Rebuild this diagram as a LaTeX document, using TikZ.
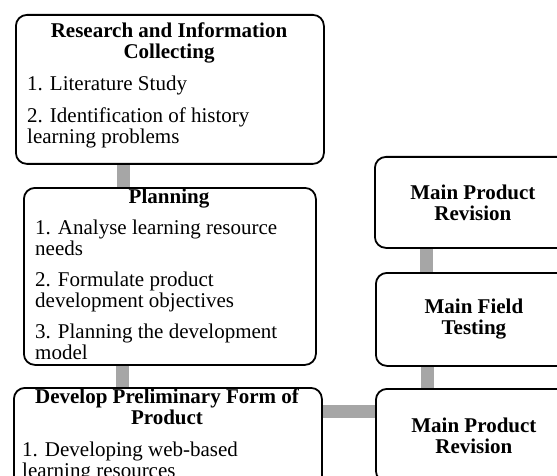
\documentclass[tikz,border=0pt]{standalone}
\usepackage{fontspec}
\setmainfont{Liberation Serif}
\usetikzlibrary{backgrounds}

\definecolor{linkgray}{HTML}{A6A6A6}

\tikzset{
  stagebox/.style={draw, line width=1.8pt, rounded corners=11pt, fill=white,
    inner sep=0pt, anchor=north west},
  link/.style={line width=13pt, draw=linkgray},
  headtext/.style={font=\fontsize{21}{21}\selectfont\bfseries, align=center,
    inner sep=0pt, anchor=north},
  itemtext/.style={font=\fontsize{21}{21}\selectfont, align=left,
    inner sep=0pt, anchor=north west},
}

\begin{document}
\begin{tikzpicture}[x=1pt,y=-1pt]
  \useasboundingbox (0,0) rectangle (557,476);
  \clip (0,0) rectangle (557,476);

  % left column
  \node[stagebox, minimum width=308pt, minimum height=149pt] (res) at (15,14) {};
  \node[headtext] (resHead) at (169,22.5) {Research and Information\\Collecting};
  \node[itemtext] (resItems) at (27,75.5)
    {1. Literature Study\\[11pt]2. Identification of history\\learning problems};

  \node[stagebox, minimum width=292pt, minimum height=177pt] (plan) at (23,187) {};
  \node[headtext] (planHead) at (169,188.5) {Planning};
  \node[itemtext] (planItems) at (35,219.5)
    {1. Analyse learning resource\\needs\\[10pt]2. Formulate product\\development objectives\\[10pt]3. Planning the development\\model};

  \node[stagebox, minimum width=308pt, minimum height=103pt] (dev) at (13,387) {};
  \node[headtext] (devHead) at (167,388.5) {Develop Preliminary Form of\\Product};
  \node[itemtext] (devItems) at (22,441.5)
    {1. Developing web-based\\learning resources};

  % right column
  \node[stagebox, minimum width=196pt, minimum height=91pt, align=center,
    font=\fontsize{21}{21}\selectfont\bfseries] (rev1) at (374,156) {Main Product\\Revision};
  \node[stagebox, minimum width=196pt, minimum height=93pt, align=center,
    font=\fontsize{21}{21}\selectfont\bfseries] (field) at (375,272) {Main Field\\Testing};
  \node[stagebox, minimum width=196pt, minimum height=93pt, align=center,
    font=\fontsize{21}{21}\selectfont\bfseries] (rev2) at (375,388) {Main Product\\Revision};

  % connectors
  \begin{pgfonlayer}{background}
    \draw[link] ([xshift=-46pt]res.south) -- ([xshift=-46pt]res.south |- plan.north);
    \draw[link] ([xshift=-47pt]plan.south) -- ([xshift=-47pt]plan.south |- dev.north);
    \draw[link] ([yshift=-24pt]dev.north east) -- ([yshift=-24pt]dev.north east -| rev2.west);
    \draw[link] ([xshift=-46pt]rev1.south) -- ([xshift=-46pt]rev1.south |- field.north);
    \draw[link] ([xshift=-46pt]field.south) -- ([xshift=-46pt]field.south |- rev2.north);
  \end{pgfonlayer}
\end{tikzpicture}
\end{document}
